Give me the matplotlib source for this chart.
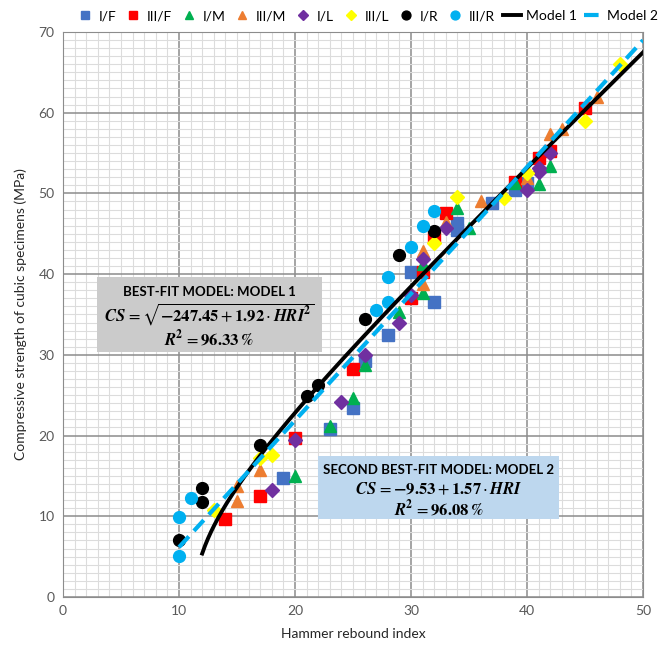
import numpy as np
import matplotlib.pyplot as plt
from matplotlib.patches import Rectangle
from matplotlib.ticker import MultipleLocator

plt.rcParams['font.family'] = ['Lato', 'DejaVu Sans']
plt.rcParams['mathtext.fontset'] = 'stix'

# data (HRI, CS in MPa)
if_x = [19, 23, 25, 26, 28, 30, 32, 34, 34, 37, 39, 40]
if_y = [14.8, 20.8, 23.4, 29.2, 32.4, 40.3, 36.6, 46.3, 45.5, 48.8, 50.4, 51.3]
iiif_x = [14, 17, 20, 25, 30, 31, 32, 33, 39, 41, 42, 45]
iiif_y = [9.7, 12.5, 19.7, 28.2, 37.1, 40.3, 44.6, 47.6, 51.4, 54.4, 55.3, 60.6]
im_x = [20, 23, 25, 26, 29, 31, 31, 34, 35, 39, 41, 42]
im_y = [15.0, 21.2, 24.6, 28.7, 35.3, 37.6, 41.2, 48.2, 45.7, 51.3, 51.2, 53.4]
iiim_x = [15, 15, 17, 31, 31, 33, 36, 40, 42, 43, 46]
iiim_y = [11.9, 13.8, 15.7, 38.8, 42.9, 46.5, 49.0, 51.9, 57.4, 58.0, 62.0]
il_x = [18, 20, 24, 26, 29, 30, 31, 33, 40, 41, 41, 42]
il_y = [13.2, 19.4, 24.2, 30.0, 33.9, 37.4, 41.9, 45.7, 50.4, 53.2, 52.6, 55.0]
iiil_x = [13, 17, 18, 32, 34, 38, 40, 45, 48]
iiil_y = [10.8, 17.2, 17.6, 43.9, 49.6, 49.4, 52.5, 59.0, 66.0]
ir_x = [10, 12, 12, 17, 21, 22, 26, 29, 32]
ir_y = [7.0, 13.5, 11.8, 18.8, 24.9, 26.3, 34.5, 42.4, 45.4]
iiir_x = [10, 10, 11, 27, 28, 28, 30, 31, 32]
iiir_y = [9.9, 5.1, 12.3, 35.5, 36.6, 39.6, 43.4, 46.0, 47.8]

fig = plt.figure(figsize=(6.61, 6.48), dpi=100)
ax = fig.add_axes([0.0953, 0.0787, 0.8775, 0.872])

ms = 8.5
ax.plot(if_x, if_y, 's', color='#4472c4', ms=ms, label='I/F', ls='none')
ax.plot(iiif_x, iiif_y, 's', color='#ff0000', ms=ms, label='III/F', ls='none')
ax.plot(im_x, im_y, '^', color='#00b050', ms=ms, label='I/M', ls='none')
ax.plot(iiim_x, iiim_y, '^', color='#ed7d31', ms=ms, label='III/M', ls='none')
ax.plot(il_x, il_y, 'D', color='#7030a0', ms=7, label='I/L', ls='none')
ax.plot(iiil_x, iiil_y, 'D', color='#ffff00', ms=7, label='III/L', ls='none')
ax.plot(ir_x, ir_y, 'o', color='#000000', ms=ms, label='I/R', ls='none')
ax.plot(iiir_x, iiir_y, 'o', color='#00b0f0', ms=ms, label='III/R', ls='none')

# fitted models
h1 = np.linspace(12, 50, 300)
ax.plot(h1, np.sqrt(-247.45 + 1.92 * h1 ** 2), color='black', lw=2.8, label='Model 1')
h2 = np.array([10, 50])
ax.plot(h2, -9.53 + 1.57 * h2, color='#00b0f0', lw=3, dashes=(3.5, 1.8), label='Model 2')

ax.set_xlim(0, 50)
ax.set_ylim(0, 70)
ax.xaxis.set_major_locator(MultipleLocator(10))
ax.yaxis.set_major_locator(MultipleLocator(10))
ax.xaxis.set_minor_locator(MultipleLocator(1))
ax.yaxis.set_minor_locator(MultipleLocator(1))
ax.grid(which='major', color='#8c8c8c', lw=1.1)
ax.grid(which='minor', color='#dcdcdc', lw=0.8)
ax.set_axisbelow(True)
ax.tick_params(which='both', length=0, labelsize=10, colors='#595959', pad=6)
for s in ax.spines.values():
    s.set_color('#8c8c8c')

ax.set_xlabel('Hammer rebound index', fontsize=10, color='#262626', labelpad=8)
ax.set_ylabel('Compressive strength of cubic specimens (MPa)', fontsize=10, color='#262626', labelpad=8)

# annotation boxes
ax.add_patch(Rectangle((2.9, 30.4), 19.4, 9.3, facecolor='#cbcbcb', edgecolor='none', zorder=3))
ax.text(12.6, 37.8, 'BEST-FIT MODEL: MODEL 1', ha='center', va='center', fontsize=9.5,
        fontweight='bold', zorder=4)
ax.text(12.6, 35.0, r'$\mathbfit{CS}\, = \sqrt{\mathbf{-247.45} + \mathbf{1.92}\cdot\mathbfit{HRI}^{\mathbf{2}}}$',
        ha='center', va='center', fontsize=12, zorder=4)
ax.text(12.6, 32.0, r'$\mathbfit{R}^{\mathbf{2}}\, = \mathbf{96.33\,\%}$', ha='center', va='center',
        fontsize=12, zorder=4)

ax.add_patch(Rectangle((22.0, 9.7), 20.8, 7.8, facecolor='#bdd7ee', edgecolor='none', zorder=3))
ax.text(32.4, 15.7, 'SECOND BEST-FIT MODEL: MODEL 2', ha='center', va='center', fontsize=9.5,
        fontweight='bold', zorder=4)
ax.text(32.4, 13.3, r'$\mathbfit{CS}\, = \mathbf{-9.53} + \mathbf{1.57}\cdot\mathbfit{HRI}$',
        ha='center', va='center', fontsize=12, zorder=4)
ax.text(32.4, 10.9, r'$\mathbfit{R}^{\mathbf{2}}\, = \mathbf{96.08\,\%}$', ha='center', va='center',
        fontsize=12, zorder=4)

handles, labels = ax.get_legend_handles_labels()
fig.legend(handles, labels, loc='center', bbox_to_anchor=(0.555, 0.975), ncol=10, frameon=False,
           fontsize=10, markerscale=0.75, handlelength=1.3, handletextpad=0.35, columnspacing=0.55)

fig.savefig('out.png', dpi=100)
